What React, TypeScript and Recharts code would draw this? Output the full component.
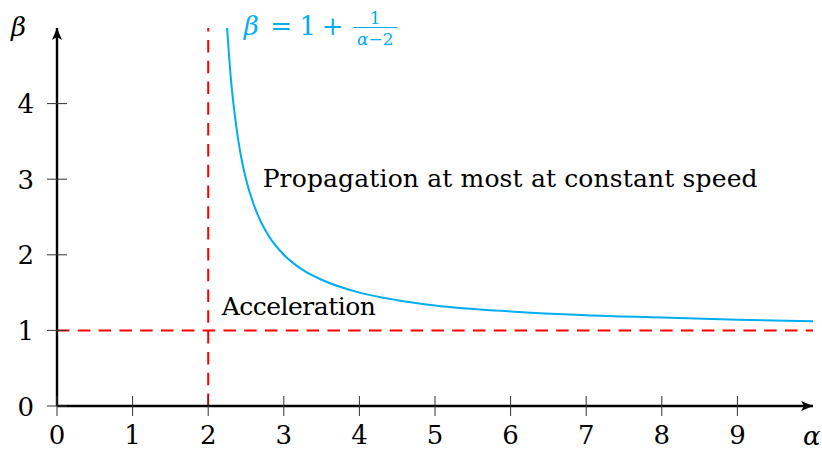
import { LineChart, Line, XAxis, YAxis, ReferenceLine, ReferenceDot } from "recharts";

// curve beta = 1 + 1/(alpha - 2)
const alphaValues = [2.25, 2.3, 2.35, 2.4, 2.45, 2.5, 2.6, 2.7, 2.8, 3, 3.25, 3.5, 4, 4.5, 5, 6, 7, 8, 9, 10];
const betaValues = [5.0, 4.33, 3.86, 3.5, 3.22, 3.0, 2.67, 2.43, 2.25, 2.0, 1.8, 1.67, 1.5, 1.4, 1.33, 1.25, 1.2, 1.17, 1.14, 1.12];

const xTicks = [0, 1, 2, 3, 4, 5, 6, 7, 8, 9];
const yTicks = [0, 1, 2, 3, 4];

const curveData = alphaValues.map((a, i) => ({ alpha: a, beta: betaValues[i] }));

const CYAN = "#00AEEF";
const RED = "#FF0000";
const FONT = "DejaVu Serif";

const txt = (size: number, italic = false) => ({
  fontFamily: FONT,
  fontSize: size,
  fontStyle: italic ? "italic" : "normal",
});

const XTick = (props: any) => {
  const { x, y, payload } = props;
  return (
    <g>
      <line x1={x} x2={x} y1={y - 10} y2={y + 10} stroke="#333" strokeWidth={1} />
      <text x={x} y={y + 38} textAnchor="middle" style={txt(26)} fill="#000">
        {payload.value}
      </text>
    </g>
  );
};

const YTick = (props: any) => {
  const { x, y, payload } = props;
  return (
    <g>
      <line x1={x - 10} x2={x + 10} y1={y} y2={y} stroke="#333" strokeWidth={1} />
      <text x={x - 23} y={y + 9.5} textAnchor="end" style={txt(26)} fill="#000">
        {payload.value}
      </text>
    </g>
  );
};

const Formula = (props: any) => {
  const { x, y } = props.viewBox;
  const base = y + 7;
  return (
    <g fill={CYAN}>
      <text x={x + 6} y={base} textAnchor="middle" style={txt(26, true)}>β</text>
      <text x={x + 36} y={base} textAnchor="middle" style={txt(26)}>=</text>
      <text x={x + 62.5} y={base} textAnchor="middle" style={txt(26)}>1</text>
      <text x={x + 87.5} y={base} textAnchor="middle" style={txt(26)}>+</text>
      <line x1={x + 108} x2={x + 152} y1={y - 0.5} y2={y - 0.5} stroke={CYAN} strokeWidth={1.2} />
      <text x={x + 130} y={y - 4} textAnchor="middle" style={txt(17)}>1</text>
      <text x={x + 130} y={y + 17} textAnchor="middle" style={txt(17)}>
        <tspan fontStyle="italic">α</tspan>−2
      </text>
    </g>
  );
};

const Note = (text: string, width: number, dy: number) => (props: any) => {
  const { x, y } = props.viewBox;
  return (
    <text x={x} y={y + dy} style={txt(25)} fill="#000" textLength={width} lengthAdjust="spacing">
      {text}
    </text>
  );
};

export default function App() {
  return (
    <div style={{ position: "absolute", left: 0, top: 0, background: "#fff" }}>
      <LineChart width={822} height={450} data={curveData} margin={{ top: 28, right: 9, bottom: 0, left: 0 }}>
        <defs>
          <marker
            id="arrowHead"
            viewBox="0 0 12 10"
            refX={12}
            refY={5}
            markerWidth={12}
            markerHeight={10}
            markerUnits="userSpaceOnUse"
            orient="auto-start-reverse"
          >
            <path d="M0,0 L12,5 L0,10 L3,5 Z" fill="#000" />
          </marker>
        </defs>
        <XAxis
          type="number"
          dataKey="alpha"
          domain={[0, 10]}
          ticks={xTicks}
          interval={0}
          height={44}
          tickSize={0}
          tickMargin={0}
          tickLine={false}
          tick={<XTick />}
          axisLine={{ stroke: "#000", strokeWidth: 2.4, markerEnd: "url(#arrowHead)" }}
          allowDataOverflow
          label={(p: any) => (
            <text x={p.viewBox.x + p.viewBox.width - 10} y={p.viewBox.y + 39} style={txt(26, true)} fill="#000">
              α
            </text>
          )}
        />
        <YAxis
          type="number"
          domain={[0, 5]}
          ticks={yTicks}
          interval={0}
          width={57}
          tickSize={0}
          tickMargin={0}
          tickLine={false}
          tick={<YTick />}
          axisLine={{ stroke: "#000", strokeWidth: 2.4, markerStart: "url(#arrowHead)" }}
          allowDataOverflow
          label={(p: any) => (
            <text x={p.viewBox.x + 11} y={p.viewBox.y + 8} style={txt(26, true)} fill="#000">
              β
            </text>
          )}
        />
        <ReferenceLine x={2} stroke={RED} strokeWidth={2} strokeDasharray="12.5 8.3" />
        <ReferenceLine y={1} stroke={RED} strokeWidth={2} strokeDasharray="12.5 8.3" />
        <Line
          type="monotone"
          dataKey="beta"
          stroke={CYAN}
          strokeWidth={2}
          dot={false}
          isAnimationActive={false}
        />
        <ReferenceDot x={2.49} y={5} r={0} fill="none" stroke="none" label={<Formula />} />
        <ReferenceDot x={2.72} y={3} r={0} fill="none" stroke="none" label={Note("Propagation at most at constant speed", 495, 8)} />
        <ReferenceDot x={2.18} y={1.2} r={0} fill="none" stroke="none" label={Note("Acceleration", 154, 0)} />
      </LineChart>
    </div>
  );
}
